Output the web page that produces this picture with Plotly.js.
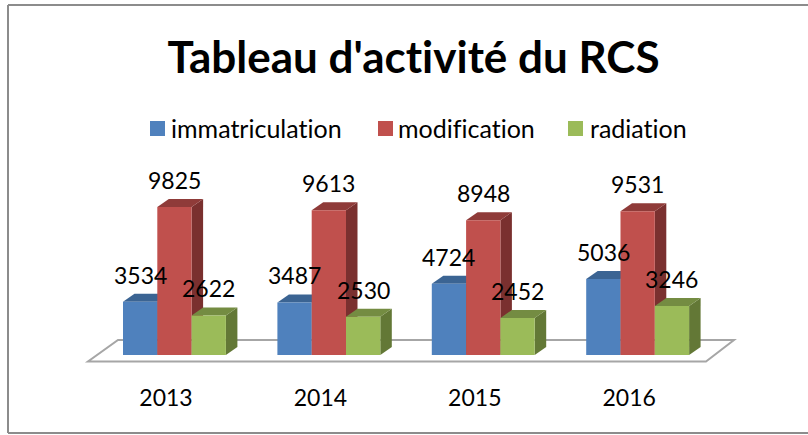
<!DOCTYPE html>
<html>
<head>
<meta charset="utf-8">
<script src="https://cdn.plot.ly/plotly-3.0.1.min.js"></script>
<style>
html,body{margin:0;padding:0;background:#fff;overflow:hidden}
svg text{font-variant-ligatures:none;font-feature-settings:"liga" 0,"clig" 0}
</style>
</head>
<body>
<div id="chart" style="width:808px;height:435px"></div>
<script>
const years = ['2013', '2014', '2015', '2016'];
const seriesNames = ['immatriculation', 'modification', 'radiation'];
const immatriculation = [3534, 3487, 4724, 5036];
const modification = [9825, 9613, 8948, 9531];
const radiation = [2622, 2530, 2452, 3246];
const seriesValues = [immatriculation, modification, radiation];
const frontColors = ['#4F81BD', '#C0504D', '#9BBB59'];
const topColors = ['#3B6493', '#8F3B39', '#748C42'];
const sideColors = ['#2F5079', '#7A302F', '#637836'];

// pixel <-> data set-up
const W = 808, H = 435;
const plotTop = 150, plotBottom = 380, baseY = 355;
const pxPerUnit = 0.01507, pxPerCat = 154.4, firstTickX = 166;
const xRange = [-firstTickX / pxPerCat, (W - firstTickX) / pxPerCat];
const yRange = [(baseY - plotBottom) / pxPerUnit, (baseY - plotTop) / pxPerUnit];
const dxPx = p => p / pxPerCat;
const dyPx = p => p / pxPerUnit;
const paperY = py => (plotBottom - py) / (plotBottom - plotTop);

const barW = dxPx(34.3);
const firstOffset = dxPx(123 - firstTickX);
const depthX = dxPx(11.5), depthY = dyPx(8);
const catIdx = years.map((_, i) => i);

const traces = seriesValues.map((vals, s) => ({
  type: 'bar', name: seriesNames[s], x: catIdx, y: vals,
  width: barW, offset: firstOffset + s * barW,
  marker: { color: frontColors[s], line: { width: 0 } },
  hoverinfo: 'name+y', showlegend: false
}));

const poly = pts => 'M' + pts.map(p => p.join(',')).join('L') + 'Z';
const shapes = [];
// page frame
const frame = { color: '#8C8C8C', width: 2 };
shapes.push({ type: 'line', xref: 'paper', yref: 'paper', x0: 8 / W, x1: 8 / W, y0: paperY(5), y1: paperY(433), line: frame });
shapes.push({ type: 'line', xref: 'paper', yref: 'paper', x0: 8 / W, x1: 1, y0: paperY(5), y1: paperY(5), line: frame });
shapes.push({ type: 'line', xref: 'paper', yref: 'paper', x0: 8 / W, x1: 1, y0: paperY(433), y1: paperY(433), line: frame });
// chart floor
const xp = px => (px - firstTickX) / pxPerCat;
const yp = py => (baseY - py) / pxPerUnit;
shapes.push({
  type: 'path', xref: 'x', yref: 'y', layer: 'below',
  path: poly([[xp(88), yp(361.5)], [xp(706), yp(361.5)], [xp(734), yp(340)], [xp(118), yp(340)]]),
  fillcolor: '#FFFFFF', line: { color: '#A6A6A6', width: 2 }
});
// 3-D faces, computed from the values, kept under the front faces
seriesValues.forEach((vals, s) => {
  vals.forEach((v, i) => {
    const x0 = i + firstOffset + s * barW, x1 = x0 + barW;
    shapes.push({
      type: 'path', xref: 'x', yref: 'y', layer: 'below', line: { width: 0 }, fillcolor: sideColors[s],
      path: poly([[x1, 0], [x1 + depthX, depthY], [x1 + depthX, v + depthY], [x1, v]])
    });
    shapes.push({
      type: 'path', xref: 'x', yref: 'y', layer: 'below', line: { width: 0 }, fillcolor: topColors[s],
      path: poly([[x0, v], [x1, v], [x1 + depthX, v + depthY], [x0 + depthX, v + depthY]])
    });
  });
});

const font = 'Lato, "Open Sans", sans-serif';
const annotations = [];
// data labels
seriesValues.forEach((vals, s) => {
  vals.forEach((v, i) => {
    annotations.push({
      xref: 'x', yref: 'y', x: i + firstOffset + (s + 0.5) * barW, y: v, yshift: 27,
      text: String(v), showarrow: false, xanchor: 'center', yanchor: 'middle',
      font: { family: font, size: 23, color: '#000' }
    });
  });
});
// legend
const legendSwatchX = [150, 378, 568], legendTextX = [171, 398, 590];
seriesNames.forEach((n, s) => {
  shapes.push({
    type: 'rect', xref: 'paper', yref: 'paper', line: { width: 0 }, fillcolor: frontColors[s],
    x0: legendSwatchX[s] / W, x1: (legendSwatchX[s] + 15) / W, y0: paperY(136), y1: paperY(121)
  });
  annotations.push({
    xref: 'paper', yref: 'paper', x: legendTextX[s] / W, y: paperY(128),
    text: n, showarrow: false, xanchor: 'left', yanchor: 'middle', xshift: -2,
    font: { family: font, size: 25, color: '#000' }
  });
});

const layout = {
  width: W, height: H,
  paper_bgcolor: '#fff', plot_bgcolor: 'rgba(0,0,0,0)',
  margin: { l: 0, r: 0, t: plotTop, b: H - plotBottom, pad: 0 },
  barmode: 'overlay', showlegend: false,
  title: {
    text: "Tableau d'activité du RCS", x: 413.5 / W, xanchor: 'center',
    y: 1 - 58 / H, yanchor: 'middle', yref: 'container',
    font: { family: font, size: 44, weight: 700, color: '#000' }
  },
  xaxis: {
    type: 'linear', range: xRange, tickmode: 'array', tickvals: catIdx, ticktext: years,
    showgrid: false, zeroline: false, showline: false, ticks: '', ticklabelstandoff: 2,
    tickfont: { family: font, size: 23, color: '#000' }, fixedrange: true, automargin: false
  },
  yaxis: {
    range: yRange, visible: false, showgrid: false, zeroline: false, fixedrange: true
  },
  shapes, annotations
};
Plotly.newPlot('chart', traces, layout, { displayModeBar: false, staticPlot: true });
</script>
</body>
</html>
